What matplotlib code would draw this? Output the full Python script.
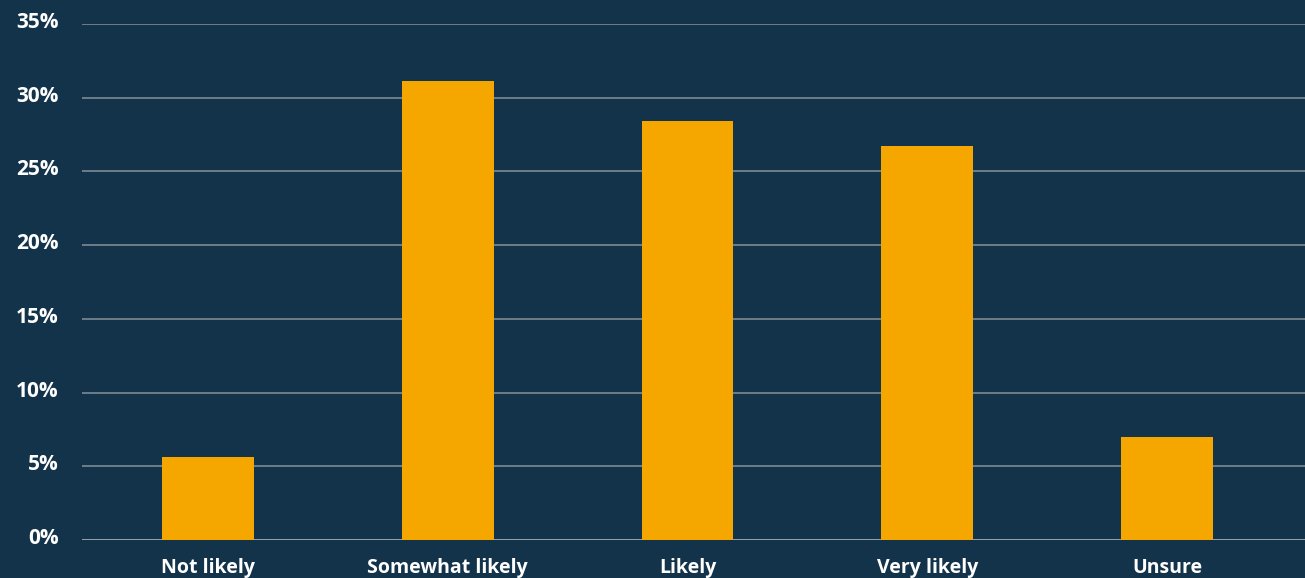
import matplotlib.pyplot as plt
from matplotlib.ticker import FuncFormatter
from matplotlib.transforms import ScaledTranslation

categories = ['Not likely', 'Somewhat likely', 'Likely', 'Very likely', 'Unsure']
values = [5.6, 31.1, 28.4, 26.7, 7.0]
yticks = [0, 5, 10, 15, 20, 25, 30, 35]

bg = '#13334a'
bar_color = '#f5a700'
grid_color = '#7d8a93'

plt.rcParams['font.family'] = ['Open Sans', 'DejaVu Sans']

fig = plt.figure(figsize=(13.05, 5.78), dpi=100, facecolor=bg)
ax = fig.add_axes([82 / 1305, 38 / 578, 1223 / 1305, 516 / 578])
ax.set_facecolor(bg)

x = range(len(categories))
ax.bar(x, values, width=0.383, color=bar_color, zorder=3)

ax.set_xlim(-0.525, 4.575)
ax.set_ylim(0, 35)
ax.set_yticks(yticks)
ax.yaxis.set_major_formatter(FuncFormatter(lambda v, p: f'{v:.0f}%'))
ax.grid(axis='y', color=grid_color, linewidth=1.2, zorder=0)
ax.set_axisbelow(True)

ax.set_xticks(list(x))
ax.set_xticklabels(categories)
for s in ax.spines.values():
    s.set_visible(False)
ax.axhline(0, color='#9aa3aa', linewidth=2, zorder=2)

ax.tick_params(axis='both', length=0, colors='white', labelsize=14)
ax.tick_params(axis='y', pad=17, labelsize=15)
ax.tick_params(axis='x', pad=13)
shift = ScaledTranslation(0, 4 / 100, fig.dpi_scale_trans)
for lab in ax.get_yticklabels():
    lab.set_fontweight('bold')
    lab.set_transform(lab.get_transform() + shift)
for lab in ax.get_xticklabels():
    lab.set_fontweight('bold')

fig.savefig('out.png', dpi=100, facecolor=bg)
